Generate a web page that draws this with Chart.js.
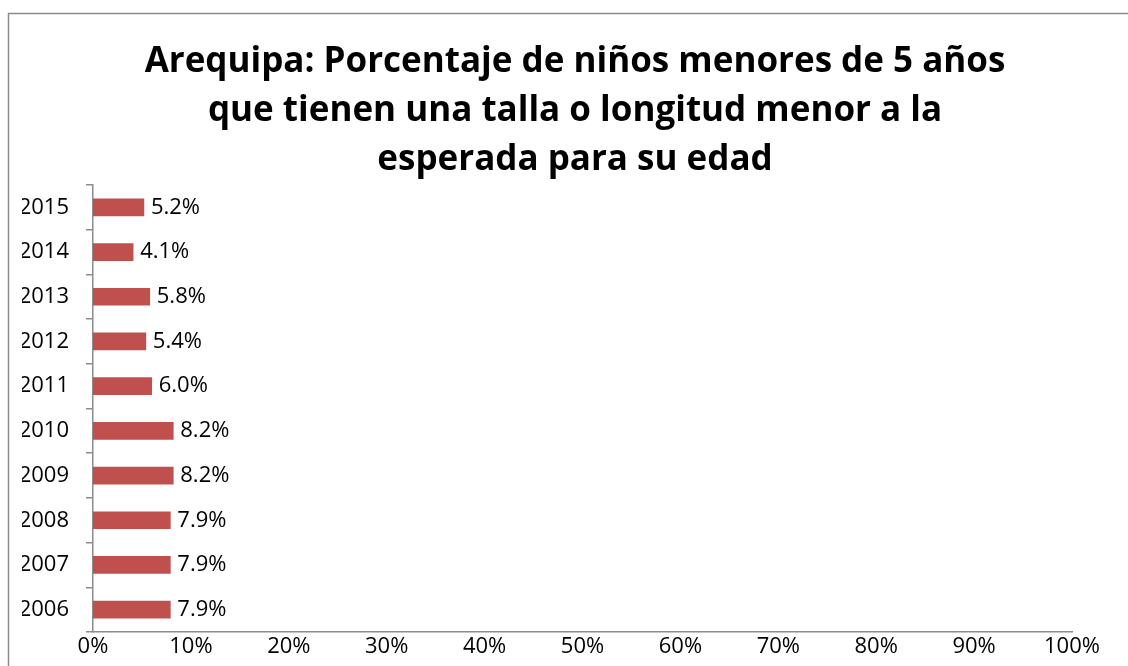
<!DOCTYPE html>
<html lang="es">
  <head>
    <meta charset="utf-8" />
    <script src="https://cdn.jsdelivr.net/npm/chart.js"></script>
    <style>
      html, body { margin: 0; padding: 0; background: #fff; }
      #box { width: 1128px; height: 666px; }
    </style>
    <title>index</title>
  </head>
  <body>
    <div id="box"><canvas id="myChart"></canvas></div>
    <script>
      const years = ["2015", "2014", "2013", "2012", "2011", "2010", "2009", "2008", "2007", "2006"];
      const values = [5.2, 4.1, 5.8, 5.4, 6.0, 8.2, 8.2, 7.9, 7.9, 7.9];
      const titleLines = [
        "Arequipa: Porcentaje de niños menores de 5 años",
        "que tienen una talla o longitud menor a la",
        "esperada para su edad",
      ];

      const fontFamily = "'Open Sans', Lato, sans-serif";

      // outer frame, partly cut off like the original
      const framePlugin = {
        id: "frame",
        beforeDraw(chart) {
          const ctx = chart.ctx;
          ctx.save();
          ctx.strokeStyle = "#8c8c8c";
          ctx.lineWidth = 1.5;
          ctx.strokeRect(8.5, 13.5, 1300, 800);
          ctx.restore();
        },
      };

      const valueLabels = {
        id: "valueLabels",
        afterDatasetsDraw(chart) {
          const ctx = chart.ctx;
          const meta = chart.getDatasetMeta(0);
          ctx.save();
          ctx.font = "22px " + fontFamily;
          ctx.fillStyle = "#000";
          ctx.textAlign = "left";
          ctx.textBaseline = "middle";
          meta.data.forEach((bar, i) => {
            ctx.fillText(values[i].toFixed(1) + "%", bar.x + 7, bar.y);
          });
          ctx.restore();
        },
      };

      const config = {
        type: "bar",
        data: {
          labels: years,
          datasets: [
            {
              data: values,
              backgroundColor: "#c0504d",
              barThickness: 17,
            },
          ],
        },
        options: {
          indexAxis: "y",
          responsive: true,
          maintainAspectRatio: false,
          animation: false,
          layout: { padding: { left: 22, right: 0, top: 0, bottom: 0 } },
          plugins: {
            legend: { display: false },
            tooltip: { enabled: false },
            title: {
              display: true,
              text: titleLines,
              color: "#000",
              font: { family: fontFamily, size: 35, weight: "bold", lineHeight: 1.4 },
              padding: { top: 38, bottom: 0 },
            },
          },
          scales: {
            x: {
              min: 0,
              max: 100,
              afterFit: (s) => {
                s.height = 34;
                s.paddingRight = 56;
              },
              ticks: {
                stepSize: 10,
                color: "#000",
                padding: 2,
                maxRotation: 0,
                font: { family: fontFamily, size: 22 },
                callback: (v) => v + "%",
              },
              grid: { display: false, drawTicks: false },
              border: { color: "#8c8c8c", width: 1.5 },
            },
            y: {
              afterFit: (s) => { s.width = 71; },
              ticks: {
                color: "#000",
                padding: 17,
                font: { family: fontFamily, size: 22 },
              },
              grid: {
                drawOnChartArea: false,
                tickLength: 7,
                color: "#8c8c8c",
                lineWidth: 1.5,
              },
              border: { color: "#8c8c8c", width: 1.5 },
            },
          },
        },
        plugins: [framePlugin, valueLabels],
      };

      var myChart = new Chart(document.getElementById("myChart"), config);
    </script>
  </body>
</html>
